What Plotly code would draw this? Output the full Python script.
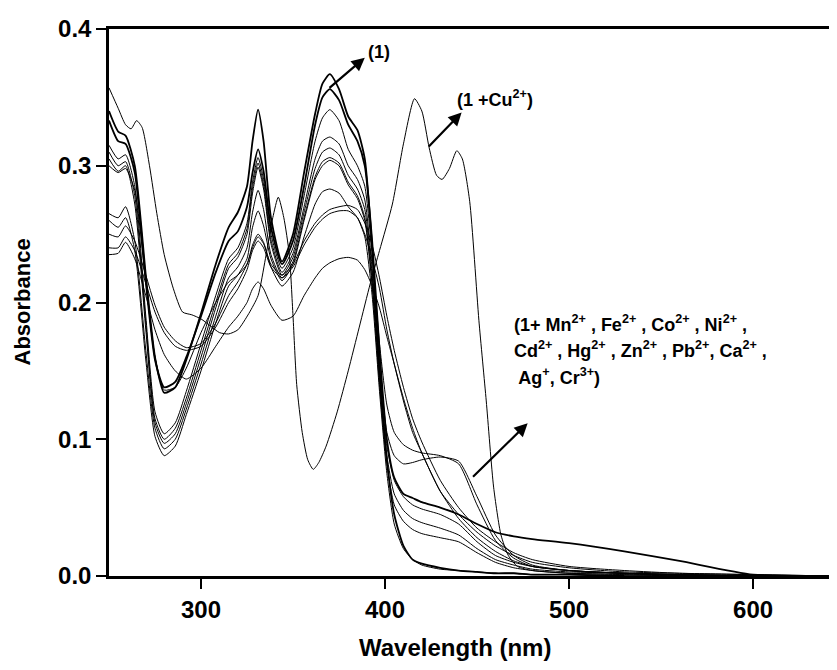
import plotly.graph_objects as go

# wavelength grid shared by the free ligand and the non-responding metals
WL = [250, 255, 259, 264, 270, 275, 280, 286, 292, 300, 308, 315, 320, 325, 328, 331, 334, 338, 344, 350,
      356, 362, 366, 370, 375, 380, 385, 389, 393, 397, 401, 405, 410, 415, 420, 430, 440, 450, 460, 470,
      480, 500, 530, 560, 600, 645]

A1 = [0.340, 0.325, 0.322, 0.300, 0.220, 0.160, 0.134, 0.138, 0.158, 0.192, 0.228, 0.255, 0.266, 0.285, 0.318, 0.341,
      0.318, 0.262, 0.230, 0.250, 0.295, 0.338, 0.360, 0.367, 0.356, 0.336, 0.326, 0.305, 0.240, 0.150, 0.085, 0.045,
      0.022, 0.012, 0.009, 0.006, 0.004, 0.003, 0.002, 0.002, 0.001, 0.001, 0.0, 0.0, 0.0, 0.0]
A2 = [0.333, 0.318, 0.316, 0.295, 0.215, 0.158, 0.138, 0.142, 0.160, 0.190, 0.222, 0.245, 0.252, 0.270, 0.295, 0.312,
      0.296, 0.255, 0.228, 0.245, 0.285, 0.330, 0.350, 0.356, 0.348, 0.330, 0.318, 0.300, 0.245, 0.165, 0.100, 0.072,
      0.060, 0.057, 0.054, 0.050, 0.045, 0.038, 0.032, 0.029, 0.027, 0.024, 0.018, 0.011, 0.001, 0.0]
A3 = [0.315, 0.305, 0.308, 0.285, 0.190, 0.120, 0.104, 0.112, 0.135, 0.170, 0.205, 0.232, 0.240, 0.258, 0.288, 0.306,
      0.290, 0.250, 0.225, 0.240, 0.278, 0.318, 0.335, 0.341, 0.333, 0.312, 0.300, 0.285, 0.235, 0.170, 0.125, 0.105,
      0.096, 0.092, 0.090, 0.088, 0.082, 0.052, 0.026, 0.013, 0.007, 0.004, 0.002, 0.001, 0.0, 0.0]
A4 = [0.310, 0.300, 0.303, 0.278, 0.185, 0.115, 0.100, 0.108, 0.130, 0.165, 0.200, 0.228, 0.236, 0.254, 0.284, 0.302,
      0.286, 0.246, 0.222, 0.236, 0.270, 0.305, 0.318, 0.321, 0.316, 0.300, 0.290, 0.275, 0.225, 0.155, 0.105, 0.088,
      0.082, 0.083, 0.085, 0.087, 0.084, 0.058, 0.030, 0.015, 0.008, 0.004, 0.002, 0.001, 0.0, 0.0]
A5 = [0.305, 0.296, 0.300, 0.272, 0.180, 0.112, 0.097, 0.104, 0.126, 0.160, 0.196, 0.225, 0.233, 0.250, 0.280, 0.299,
      0.283, 0.243, 0.220, 0.233, 0.266, 0.298, 0.310, 0.313, 0.308, 0.293, 0.283, 0.268, 0.220, 0.150, 0.095, 0.070,
      0.058, 0.052, 0.049, 0.045, 0.038, 0.025, 0.015, 0.010, 0.007, 0.004, 0.002, 0.001, 0.0, 0.0]
A6 = [0.265, 0.262, 0.270, 0.245, 0.165, 0.108, 0.093, 0.100, 0.122, 0.155, 0.190, 0.218, 0.226, 0.240, 0.266, 0.282,
      0.268, 0.235, 0.218, 0.230, 0.262, 0.292, 0.303, 0.306, 0.302, 0.288, 0.278, 0.262, 0.215, 0.145, 0.088, 0.060,
      0.048, 0.042, 0.039, 0.035, 0.030, 0.020, 0.012, 0.008, 0.005, 0.003, 0.002, 0.001, 0.0, 0.0]
A7 = [0.260, 0.255, 0.262, 0.238, 0.158, 0.102, 0.088, 0.095, 0.118, 0.150, 0.185, 0.212, 0.220, 0.232, 0.255, 0.267,
      0.256, 0.232, 0.216, 0.228, 0.260, 0.290, 0.300, 0.304, 0.300, 0.286, 0.276, 0.260, 0.212, 0.140, 0.082, 0.052,
      0.040, 0.034, 0.031, 0.028, 0.025, 0.017, 0.010, 0.006, 0.004, 0.002, 0.001, 0.0, 0.0, 0.0]
A8 = [0.300, 0.295, 0.298, 0.282, 0.215, 0.160, 0.136, 0.138, 0.152, 0.178, 0.200, 0.215, 0.220, 0.228, 0.242, 0.250,
      0.244, 0.226, 0.212, 0.222, 0.248, 0.272, 0.281, 0.283, 0.280, 0.270, 0.262, 0.248, 0.205, 0.135, 0.075, 0.038,
      0.020, 0.012, 0.008, 0.005, 0.004, 0.003, 0.002, 0.002, 0.001, 0.001, 0.0, 0.0, 0.0, 0.0]
A9 = [0.250, 0.248, 0.256, 0.245, 0.220, 0.198, 0.182, 0.172, 0.167, 0.170, 0.185, 0.205, 0.215, 0.228, 0.240, 0.248,
      0.243, 0.228, 0.220, 0.228, 0.245, 0.258, 0.264, 0.268, 0.270, 0.271, 0.268, 0.258, 0.242, 0.218, 0.190, 0.165,
      0.138, 0.115, 0.098, 0.070, 0.050, 0.035, 0.025, 0.017, 0.012, 0.007, 0.004, 0.002, 0.001, 0.0]
A10 = [0.240, 0.240, 0.248, 0.238, 0.214, 0.193, 0.178, 0.168, 0.165, 0.168, 0.182, 0.200, 0.210, 0.224, 0.238, 0.245,
       0.240, 0.226, 0.218, 0.226, 0.242, 0.255, 0.261, 0.265, 0.267, 0.267, 0.262, 0.250, 0.232, 0.210, 0.180, 0.155,
       0.128, 0.105, 0.090, 0.062, 0.045, 0.032, 0.022, 0.015, 0.010, 0.006, 0.003, 0.002, 0.001, 0.0]
A11 = [0.235, 0.236, 0.244, 0.232, 0.205, 0.180, 0.162, 0.150, 0.144, 0.152, 0.168, 0.182, 0.190, 0.200, 0.210, 0.215,
       0.210, 0.198, 0.187, 0.190, 0.205, 0.218, 0.225, 0.229, 0.232, 0.233, 0.231, 0.224, 0.212, 0.196, 0.175, 0.155,
       0.130, 0.108, 0.090, 0.062, 0.042, 0.028, 0.018, 0.011, 0.007, 0.004, 0.002, 0.001, 0.0, 0.0]

# 1 + Cu2+
CU_WL = [250, 255, 259, 262, 265, 268, 272, 276, 280, 285, 290, 295, 300, 305, 310, 315, 320, 326, 331, 335,
         339, 342, 345, 348, 350, 352, 355, 358, 361, 364, 368, 374, 380, 386, 392, 397, 404, 410, 416, 420,
         424, 428, 431, 435, 439, 442, 446, 451, 455, 459, 463, 467, 472, 480, 500, 550, 645]
CU_ABS = [0.357, 0.342, 0.330, 0.327, 0.333, 0.328, 0.300, 0.265, 0.235, 0.210, 0.193, 0.191, 0.188, 0.183, 0.178,
          0.177, 0.180, 0.192, 0.205, 0.232, 0.262, 0.277, 0.262, 0.235, 0.190, 0.140, 0.105, 0.085, 0.078, 0.083,
          0.095, 0.120, 0.150, 0.182, 0.214, 0.238, 0.272, 0.316, 0.349, 0.340, 0.313, 0.293, 0.290, 0.298, 0.311,
          0.305, 0.274, 0.187, 0.128, 0.065, 0.030, 0.015, 0.007, 0.004, 0.002, 0.001, 0.0]

spectra = [A1, A2, A3, A4, A5, A6, A7, A8, A9, A10, A11]
widths = [1.8, 1.8, 1, 1, 1, 1, 1, 1, 1, 1, 1]

FONT = "Liberation Sans, Arial, sans-serif"

fig = go.Figure()
for ys, w in zip(spectra, widths):
    assert len(ys) == len(WL)
    fig.add_trace(go.Scatter(x=WL, y=ys, mode="lines",
                             line=dict(color="black", width=w, shape="spline", smoothing=0.6)))
assert len(CU_ABS) == len(CU_WL)
fig.add_trace(go.Scatter(x=CU_WL, y=CU_ABS, mode="lines",
                         line=dict(color="black", width=1, shape="spline", smoothing=0.6)))

axis_common = dict(showgrid=False, zeroline=False, showline=True, linecolor="black", linewidth=2.5,
                   ticks="outside", ticklen=10, tickwidth=2, tickcolor="black",
                   tickfont=dict(family=FONT, size=24, color="black", weight="bold"))
fig.update_xaxes(range=[250, 645.6], tickvals=[300, 400, 500, 600], mirror=True, **axis_common)
fig.update_yaxes(range=[0, 0.4], tickvals=[0.0, 0.1, 0.2, 0.3, 0.4], tickformat=".1f", **axis_common)

ann_font = dict(family=FONT, size=18, color="black", weight="bold")
arrows = [
    (369, 0.356, 389, 0.379),
    (423, 0.313, 441.6, 0.339),
    (447, 0.0715, 477.5, 0.1117),
]
for x0, y0, x1, y1 in arrows:
    fig.add_annotation(x=x1, y=y1, ax=x0, ay=y0, xref="x", yref="y", axref="x", ayref="y",
                       text="", showarrow=True, arrowhead=2, arrowsize=1.2, arrowwidth=2.2, arrowcolor="black")

fig.add_annotation(x=389.5, y=0.383, text="(1)", showarrow=False, xanchor="left", yanchor="middle",
                   font=ann_font)
fig.add_annotation(x=438, y=0.349, text="(1 +Cu<sup>2+</sup>)", showarrow=False, xanchor="left",
                   yanchor="middle", font=ann_font)
label_lines = [
    "(1+ Mn<sup>2+</sup> , Fe<sup>2+</sup> , Co<sup>2+</sup> , Ni<sup>2+</sup> ,",
    "Cd<sup>2+</sup> , Hg<sup>2+</sup> , Zn<sup>2+</sup> , Pb<sup>2+</sup>, Ca<sup>2+</sup> ,",
    " Ag<sup>+</sup>, Cr<sup>3+</sup>)",
]
for i, t in enumerate(label_lines):
    fig.add_annotation(x=468.8, y=0.185 - 0.0197 * i, text=t, showarrow=False, xanchor="left",
                       yanchor="middle", font=ann_font)

fig.add_annotation(x=0.475, y=-0.13, xref="paper", yref="paper", text="Wavelength (nm)", showarrow=False,
                   xanchor="center", yanchor="middle", font=dict(family=FONT, size=24, color="black", weight="bold"))
fig.add_annotation(x=-0.1195, y=0.5, xref="paper", yref="paper", text="Absorbance", showarrow=False,
                   textangle=-90, xanchor="center", yanchor="middle",
                   font=dict(family=FONT, size=22, color="black", weight="bold"))

# the page body adds an 8px offset, so margins are shifted to line the axes up with the reference
fig.update_layout(width=837, height=670, showlegend=False, plot_bgcolor="white", paper_bgcolor="white",
                  margin=dict(l=101, r=8, t=21, b=102))
fig.write_html("out.html")
